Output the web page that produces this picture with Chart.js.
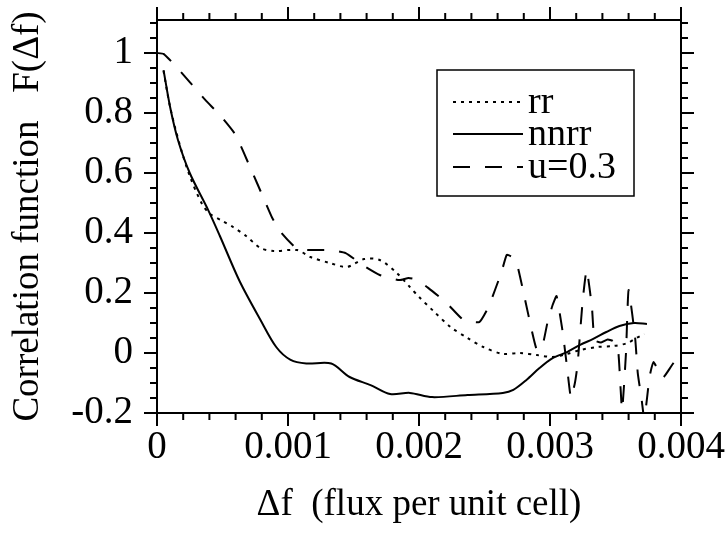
<!DOCTYPE html>
<html lang="en">
<head>
<meta charset="UTF-8">
<title>Correlation function F(Δf)</title>
<script src="https://cdn.jsdelivr.net/npm/chart.js"></script>
<style>
  body { margin: 0; background: #fff; }
</style>
</head>
<body>
<canvas id="corrChart" width="727" height="533"></canvas>
<script>
// values: flux offset (flux per unit cell) -> F(Δf)
const rrFlux = [0.00005, 0.0001, 0.00017, 0.00025, 0.00034, 0.0004, 0.0005, 0.00058, 0.00068, 0.00079,
  0.00089, 0.00107, 0.00117, 0.00132, 0.00145, 0.00158, 0.0017, 0.00183, 0.00193, 0.002,
  0.00211, 0.00224, 0.00237, 0.00249, 0.00264, 0.00277, 0.0029, 0.00302, 0.00313, 0.00323,
  0.00336, 0.00348, 0.00359, 0.00366, 0.00372];
const rrVal = [0.94, 0.82, 0.70, 0.59, 0.50, 0.465, 0.44, 0.42, 0.39, 0.35,
  0.34, 0.343, 0.32, 0.30, 0.287, 0.313, 0.31, 0.267, 0.22, 0.187,
  0.14, 0.087, 0.05, 0.02, -0.003, 0, -0.007, -0.013, -0.003, 0.01,
  0.02, 0.023, 0.033, 0.05, 0.063];

const nnrrFlux = [0.00005, 0.0001, 0.00016, 0.00025, 0.00039, 0.00048, 0.00063, 0.00079, 0.00091, 0.00102,
  0.00114, 0.00133, 0.00147, 0.00163, 0.00178, 0.00193, 0.0021, 0.00237, 0.00264, 0.00272,
  0.00282, 0.00292, 0.00302, 0.00313, 0.00323, 0.00333, 0.00343, 0.00353, 0.00364, 0.00374];
const nnrrVal = [0.943, 0.82, 0.71, 0.60, 0.477, 0.39, 0.24, 0.11, 0.02, -0.023,
  -0.035, -0.035, -0.08, -0.107, -0.137, -0.133, -0.147, -0.14, -0.133, -0.123,
  -0.09, -0.05, -0.017, 0.003, 0.027, 0.047, 0.07, 0.09, 0.1, 0.097];

const uFlux = [0, 0.00005, 0.00015, 0.00025, 0.00037, 0.00048, 0.0006, 0.00071, 0.00081, 0.00088,
  0.00095, 0.00107, 0.00119, 0.00132, 0.00144, 0.00157, 0.0017, 0.00185, 0.00192, 0.00198,
  0.00207, 0.00221, 0.00234, 0.00246, 0.00253, 0.00258, 0.00263, 0.00267, 0.00271, 0.00275,
  0.00281, 0.00286, 0.0029, 0.00294, 0.00298, 0.00302, 0.00305, 0.00308, 0.0031, 0.00313,
  0.00316, 0.00319, 0.00321, 0.00325, 0.00328, 0.00332, 0.00334, 0.00339, 0.00344, 0.00348,
  0.00352, 0.00355, 0.00358, 0.0036, 0.00365, 0.00367, 0.0037, 0.00372, 0.00376, 0.00379,
  0.00386, 0.00395, 0.004];
const uVal = [1.0, 0.997, 0.953, 0.903, 0.843, 0.793, 0.727, 0.62, 0.52, 0.45,
  0.40, 0.347, 0.343, 0.343, 0.333, 0.293, 0.26, 0.243, 0.25, 0.245,
  0.217, 0.167, 0.11, 0.103, 0.153, 0.21, 0.27, 0.327, 0.32, 0.293,
  0.177, 0.077, 0.01, 0.02, 0.1, 0.16, 0.19, 0.117, 0.06, -0.047,
  -0.15, -0.1, -0.04, 0.177, 0.277, 0.153, 0.043, 0.035, 0.045, 0.04,
  0.01, -0.19, 0.0, 0.21, 0.05, -0.067, -0.157, -0.22, -0.08, -0.03,
  -0.083, -0.03, -0.03];

const seriesNames = ['rr', 'nnrr', 'u=0.3'];
const xTicks = [0, 0.001, 0.002, 0.003, 0.004];
const yTicks = [-0.2, 0, 0.2, 0.4, 0.6, 0.8, 1];

const toPoints = (xs, ys) => xs.map((x, i) => ({ x: x, y: ys[i] }));

Chart.defaults.font.family = "'Liberation Serif', 'Times New Roman', serif";
Chart.defaults.color = '#000';

const TICK_FONT = 39;
const TITLE_FONT = 37;

// fixed box sizes so the plot frame lands where it is in the figure
const fixSize = (w, h) => s => {
  if (w != null) s.width = w;
  if (h != null) s.height = h;
  s.paddingTop = 0; s.paddingBottom = 0;
  s.paddingLeft = 0; s.paddingRight = 0;
};

// ticks on all four sides (outward) + boxed legend inside the plot
const frameTicks = {
  id: 'frameTicks',
  afterDraw(chart) {
    const { ctx, chartArea: a } = chart;
    const x = chart.scales.x, y = chart.scales.y;
    ctx.save();
    ctx.strokeStyle = '#000';
    ctx.lineWidth = 2;
    ctx.beginPath();
    for (let i = 0; i <= 20; i++) {
      const px = x.getPixelForValue(i * 0.0002);
      const len = i % 5 === 0 ? 13 : 7;
      ctx.moveTo(px, a.bottom); ctx.lineTo(px, a.bottom + len);
      ctx.moveTo(px, a.top); ctx.lineTo(px, a.top - len);
    }
    for (let i = 0; i <= 26; i++) {
      const py = y.getPixelForValue(-0.2 + i * 0.05);
      const len = i % 4 === 0 ? 13 : 7;
      ctx.moveTo(a.left, py); ctx.lineTo(a.left - len, py);
      ctx.moveTo(a.right, py); ctx.lineTo(a.right + len, py);
    }
    ctx.stroke();

    // legend box
    ctx.lineWidth = 1.5;
    ctx.strokeRect(437, 70, 197, 126);
    const rows = [102, 134, 167];
    ctx.font = '38px ' + Chart.defaults.font.family;
    ctx.fillStyle = '#000';
    ctx.textBaseline = 'alphabetic';
    chart.data.datasets.forEach((ds, i) => {
      ctx.save();
      ctx.lineWidth = ds.borderWidth;
      ctx.setLineDash(ds.borderDash || []);
      ctx.beginPath();
      ctx.moveTo(453, rows[i]);
      ctx.lineTo(523, rows[i]);
      ctx.stroke();
      ctx.restore();
      ctx.fillText(ds.label, 528, rows[i] + 11);
    });
    ctx.restore();
  }
};

new Chart(document.getElementById('corrChart'), {
  type: 'line',
  data: {
    datasets: [
      {
        label: seriesNames[0],
        data: toPoints(rrFlux, rrVal),
        borderColor: '#000',
        borderWidth: 2,
        borderDash: [3, 5],
        pointRadius: 0,
        tension: 0.3,
      },
      {
        label: seriesNames[1],
        data: toPoints(nnrrFlux, nnrrVal),
        borderColor: '#000',
        borderWidth: 2,
        pointRadius: 0,
        tension: 0.3,
      },
      {
        label: seriesNames[2],
        data: toPoints(uFlux, uVal),
        borderColor: '#000',
        borderWidth: 2,
        borderDash: [17, 15],
        pointRadius: 0,
        tension: 0.15,
      },
    ],
  },
  options: {
    responsive: false,
    animation: false,
    layout: { padding: 0 },
    plugins: {
      legend: { display: false },
      tooltip: { enabled: false },
    },
    scales: {
      x: {
        type: 'linear',
        position: 'bottom',
        min: 0,
        max: 0.004,
        afterBuildTicks: s => { s.ticks = xTicks.map(v => ({ value: v })); },
        afterFit: fixSize(null, 120),
        grid: { display: false, drawTicks: false },
        border: { display: true, color: '#000', width: 2 },
        ticks: {
          padding: 11,
          maxRotation: 0,
          font: { size: TICK_FONT },
          callback: v => String(v),
        },
        title: {
          display: true,
          text: 'Δf  (flux per unit cell)',
          font: { size: TITLE_FONT },
          padding: { top: 0, bottom: 6 },
        },
      },
      x2: {
        type: 'linear',
        position: 'top',
        min: 0,
        max: 0.004,
        afterFit: fixSize(null, 20),
        grid: { display: false, drawTicks: false },
        border: { display: true, color: '#000', width: 2 },
        ticks: { display: false },
      },
      y: {
        type: 'linear',
        position: 'left',
        min: -0.2,
        max: 1.11,
        afterBuildTicks: s => { s.ticks = yTicks.map(v => ({ value: v })); },
        afterFit: fixSize(157, null),
        grid: { display: false, drawTicks: false },
        border: { display: true, color: '#000', width: 2 },
        ticks: {
          padding: 24,
          font: { size: TICK_FONT },
          callback: v => String(Math.round(v * 10) / 10),
        },
        title: {
          display: true,
          text: 'Correlation function   F(Δf)',
          font: { size: TITLE_FONT },
          padding: { top: 6, bottom: 0 },
        },
      },
      y2: {
        type: 'linear',
        position: 'right',
        min: -0.2,
        max: 1.11,
        afterFit: fixSize(46, null),
        grid: { display: false, drawTicks: false },
        border: { display: true, color: '#000', width: 2 },
        ticks: { display: false },
      },
    },
  },
  plugins: [frameTicks],
});
</script>
</body>
</html>
